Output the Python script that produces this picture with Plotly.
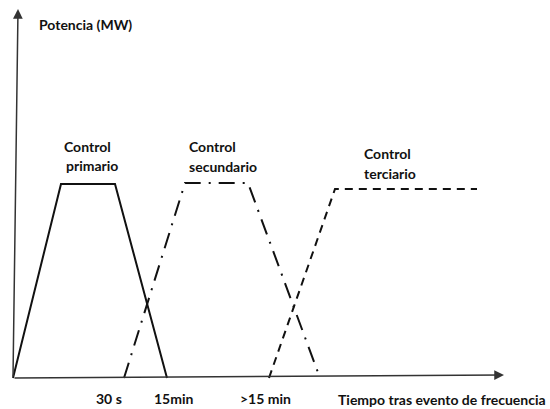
import plotly.graph_objects as go

# Schematic data (x: time units, y: power units; origin at axis crossing)
primary_x = [0, 48, 102, 154]
primary_y = [0, 194, 194, 0]
secondary_x = [111, 172, 235, 307]
secondary_y = [0, 195, 195, 0]
tertiary_x = [256, 322, 464]
tertiary_y = [0, 189, 189]

tick_labels = ["30 s", "15min", ">15 min"]
tick_pos = [96, 161, 252]

series_labels = [("Control", "primario"), ("Control", "secundario"), ("Control", "terciario")]
label_x = [(74, 79), (199, 210), (374, 377)]
label_y = [(232, 213), (232, 212), (225, 205)]

FONT = "Lato"
FS = 14
fig = go.Figure()

fig.add_trace(go.Scatter(x=primary_x, y=primary_y, mode="lines",
                         line=dict(color="#111", width=2, dash="solid"), hoverinfo="skip"))
fig.add_trace(go.Scatter(x=secondary_x, y=secondary_y, mode="lines",
                         line=dict(color="#111", width=2, dash="16px,8px,2px,8px"), hoverinfo="skip"))
fig.add_trace(go.Scatter(x=tertiary_x, y=tertiary_y, mode="lines",
                         line=dict(color="#111", width=2, dash="8px,6px"), hoverinfo="skip"))

ann = []
# axes arrows
ann.append(dict(x=5, y=369, ax=0, ay=0, xref="x", yref="y", axref="x", ayref="y",
                showarrow=True, arrowhead=2, arrowsize=1.3, arrowwidth=1.5,
                arrowcolor="#333", text="", standoff=0))
ann.append(dict(x=491, y=3, ax=0, ay=0, xref="x", yref="y", axref="x", ayref="y",
                showarrow=True, arrowhead=2, arrowsize=1.3, arrowwidth=1.5,
                arrowcolor="#333", text="", standoff=0))

ann.append(dict(x=24, y=354, xref="x", yref="y", text="<b>Potencia (MW)</b>", showarrow=False,
                xanchor="left", yanchor="middle", font=dict(family=FONT, size=FS, color="#111")))
ann.append(dict(x=535, y=-21, xref="x", yref="y", text="<b>Tiempo tras evento de frecuencia</b>",
                showarrow=False, xanchor="right", yanchor="middle",
                font=dict(family=FONT, size=FS, color="#111")))

for t, p in zip(tick_labels, tick_pos):
    ann.append(dict(x=p, y=-20, xref="x", yref="y", text="<b>" + t + "</b>", showarrow=False,
                    xanchor="center", yanchor="middle", font=dict(family=FONT, size=FS, color="#111")))

for (l1, l2), (x1, x2), (y1, y2) in zip(series_labels, label_x, label_y):
    ann.append(dict(x=x1, y=y1, xref="x", yref="y", text="<b>" + l1 + "</b>", showarrow=False,
                    xanchor="center", yanchor="middle", font=dict(family=FONT, size=FS, color="#111")))
    ann.append(dict(x=x2, y=y2, xref="x", yref="y", text="<b>" + l2 + "</b>", showarrow=False,
                    xanchor="center", yanchor="middle", font=dict(family=FONT, size=FS, color="#111")))

fig.update_layout(
    width=550, height=409,
    margin=dict(l=0, r=0, t=0, b=0),
    paper_bgcolor="white", plot_bgcolor="white",
    showlegend=False,
    annotations=ann,
    xaxis=dict(range=[-13, 537], visible=False, fixedrange=True),
    yaxis=dict(range=[-31, 378], visible=False, fixedrange=True),
)

fig.write_html("out.html", config={"displayModeBar": False},
               post_script="document.body.style.margin='0';")
